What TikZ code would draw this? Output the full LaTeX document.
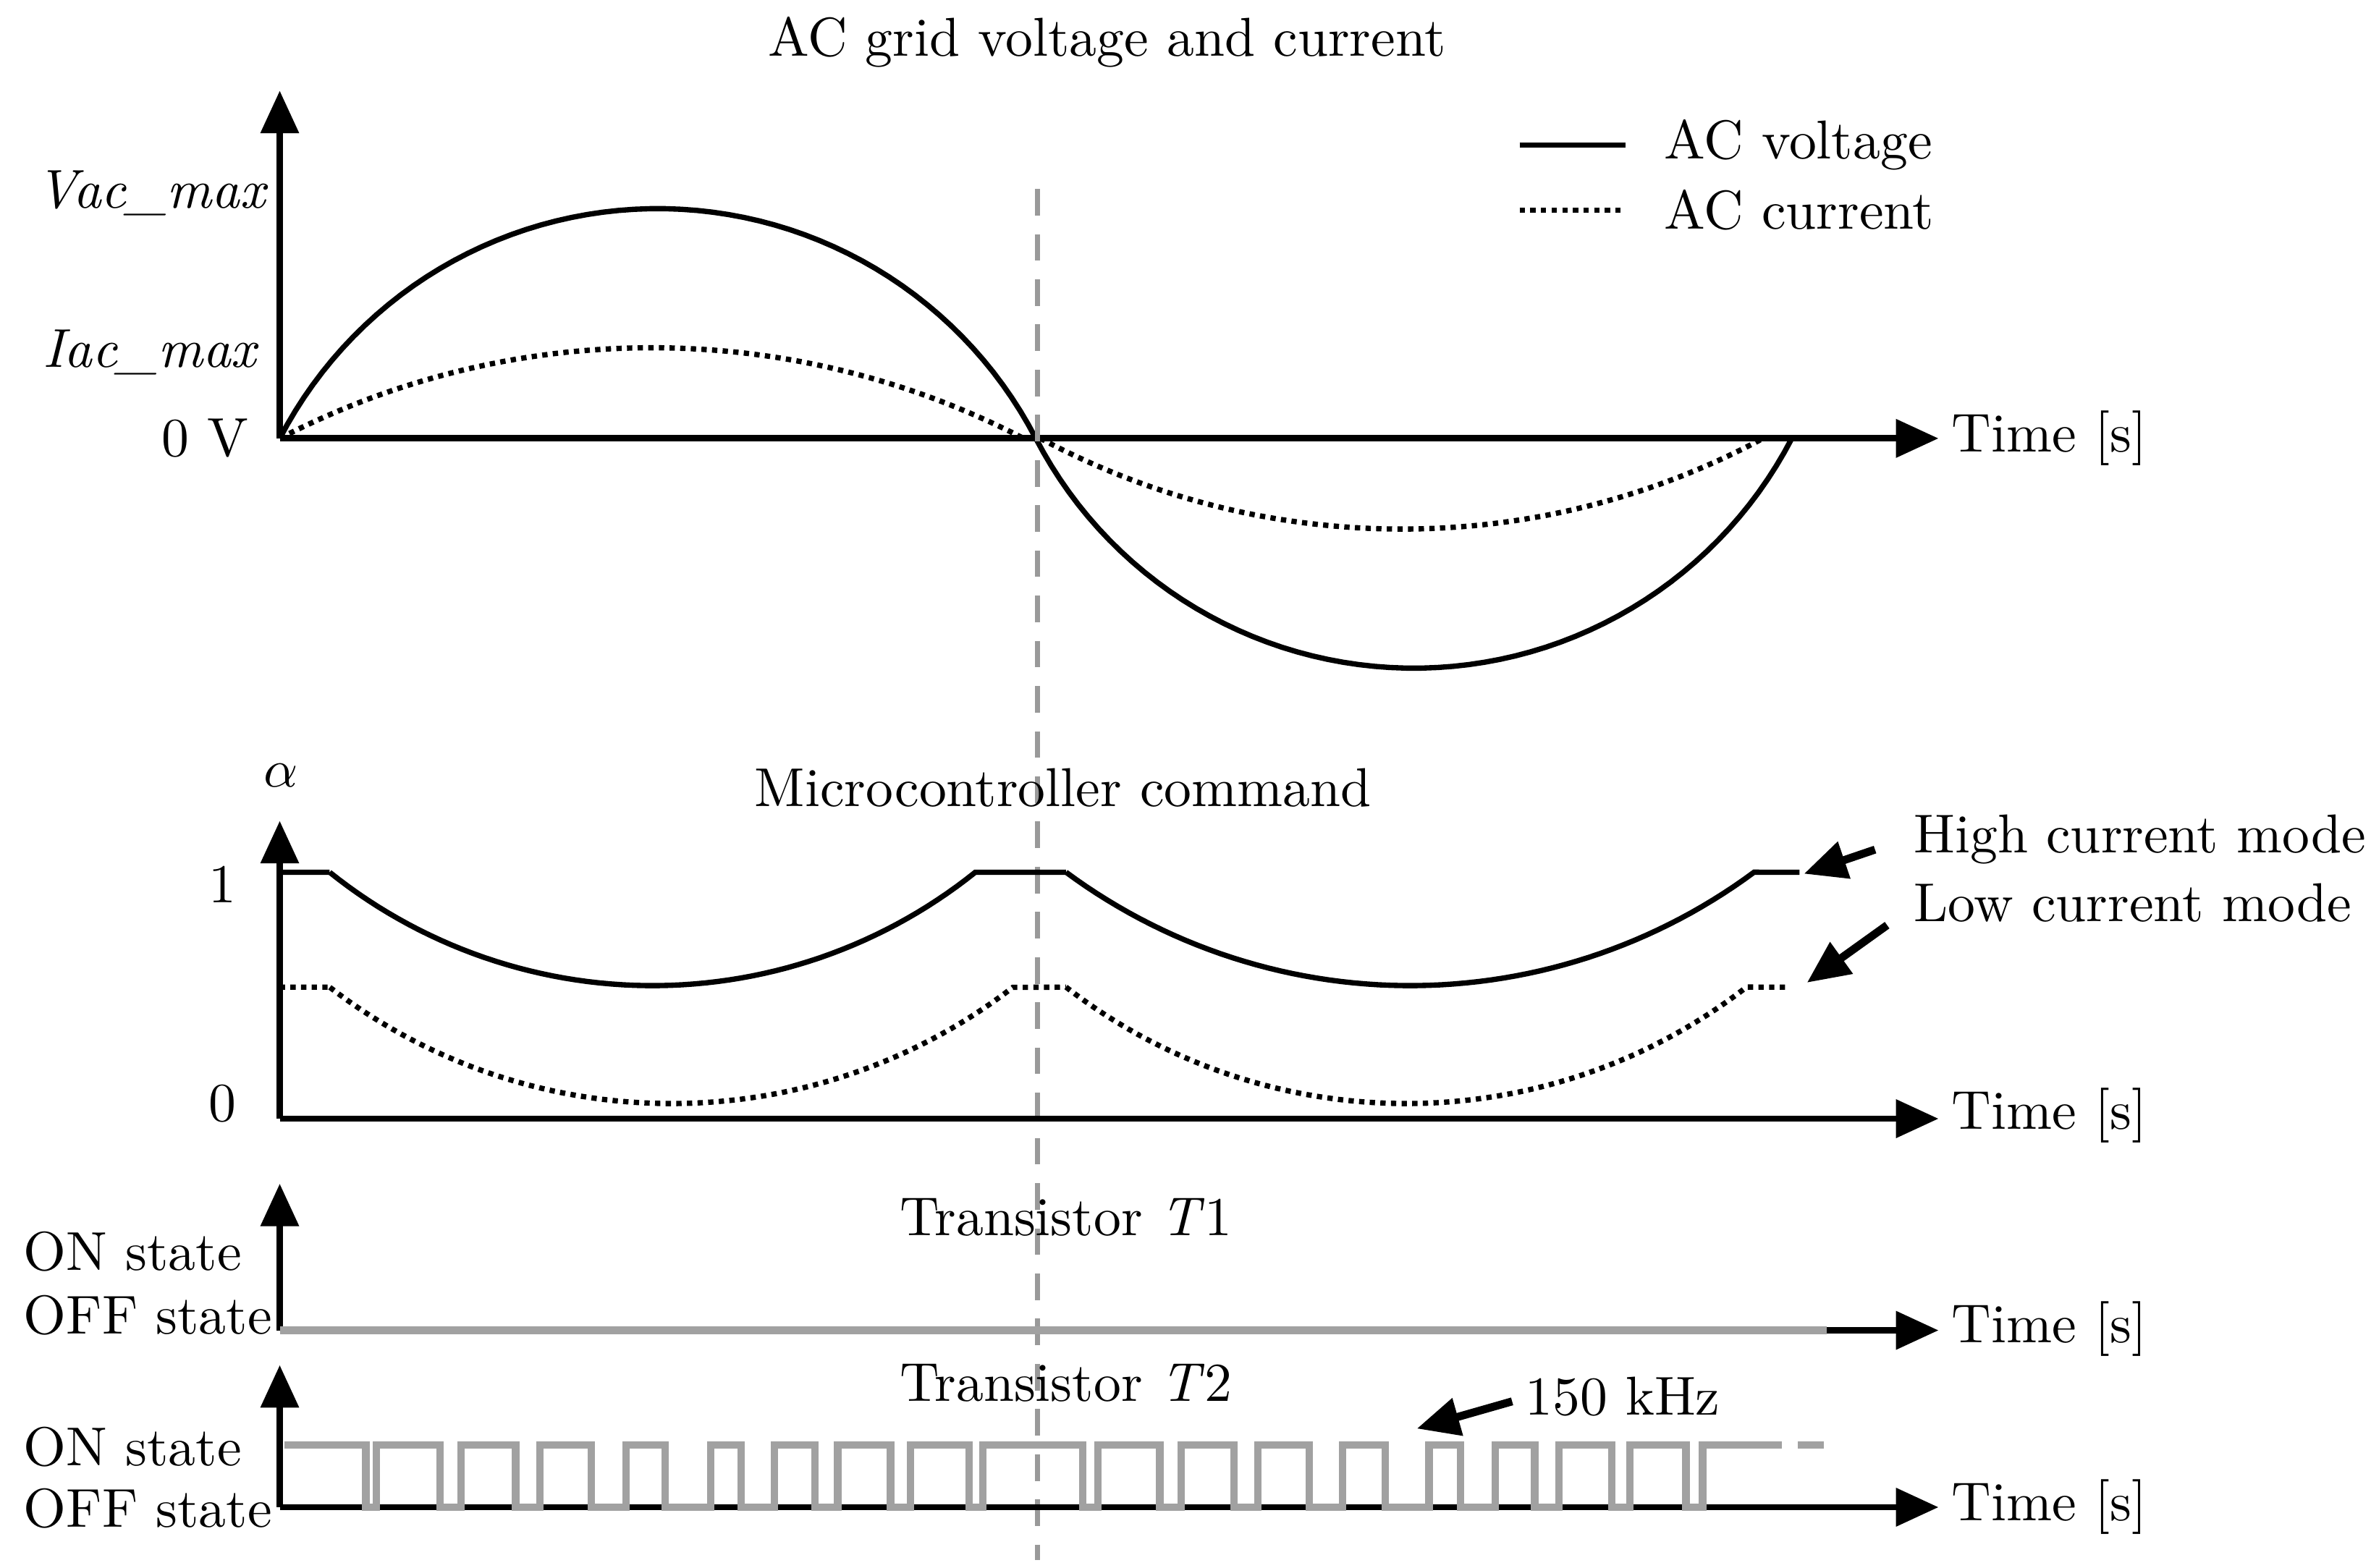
\documentclass[tikz,border=0pt]{standalone}
\usetikzlibrary{arrows.meta}
\begin{document}
\begin{tikzpicture}[x=0.01cm,y=-0.01cm,
  ax/.style={line width=1.2pt,-{Triangle[length=8pt,width=7pt]}},
  lbl/.style={font=\fontsize{10.3}{12}\selectfont,inner sep=0pt},
  curve/.style={line width=1.0pt},
  dot/.style={line width=1.0pt,dash pattern=on 1pt off 1pt},
  gr/.style={line width=1.4pt,color=black!37},
  pt/.style={line width=1.5pt,-{Triangle[length=8pt,width=7pt]}}]
\useasboundingbox (0,0) rectangle (1568,1037);
% panel 1
\coordinate (o1) at (185,290);
\coordinate (y1) at (185,60);
\coordinate (x1) at (1282,290);
\draw[ax] (o1) -- (y1);
\draw[ax] (o1) -- (x1);
\node[lbl,anchor=west] (t1) at (1290,290) {Time [s]};
\node[lbl] (title1) at (732,28) {AC grid voltage and current};
\node[lbl,anchor=east] (vmax) at (178,128) {\textit{Vac\_max}};
\node[lbl,anchor=east] (imax) at (172,233) {\textit{Iac\_max}};
\node[lbl,anchor=east] (zv) at (165,290) {0 V};
\draw[curve] plot[domain=-62.6:62.6,samples=60] ({435+281.6*sin(\x)},{419.6-281.6*cos(\x)})
             plot[domain=-62.6:62.6,samples=60] ({935+281.6*sin(\x)},{160.4+281.6*cos(\x)});
\draw[dot] plot[domain=-27.4:27.4,samples=60] ({431+534.3*sin(\x)},{764.3-534.3*cos(\x)});
\draw[dot] plot[domain=-28.2:28.2,samples=60] ({927+506*sin(\x)},{-156+506*cos(\x)});
\draw[curve] (1005,96) -- (1075,96);
\draw[dot] (1005,139) -- (1075,139);
\node[lbl,anchor=west] (lv) at (1100,96) {AC voltage};
\node[lbl,anchor=west] (lc) at (1100,139) {AC current};
% dashed marker
\draw[line width=1.0pt,black!40,dash pattern=on 5pt off 3.5pt] (686,125) -- (686,1032);
% panel 2
\coordinate (o2) at (185,740);
\draw[ax] (o2) -- (185,543);
\draw[ax] (o2) -- (1282,740);
\node[lbl,anchor=west] (t2) at (1290,738) {Time [s]};
\node[lbl] (title2) at (703,521) {Microcontroller command};
\node[lbl] (alpha) at (186,513) {$\alpha$};
\node[lbl] (one) at (147,585) {1};
\node[lbl] (zero) at (147,730) {0};
\draw[curve] (185,577) -- (218,577)
  plot[domain=-38.7:38.7,samples=60] ({431.5+341.4*sin(\x)},{310.6+341.4*cos(\x)})
  -- (705,577)
  plot[domain=-36.5:36.5,samples=60] ({932.5+382.5*sin(\x)},{269.5+382.5*cos(\x)})
  -- (1190,577);
\draw[dot] (185,653) -- (218,653)
  plot[domain=-37.6:37.6,samples=60] ({444+370.2*sin(\x)},{359.8+370.2*cos(\x)})
  -- (705,653)
  plot[domain=-37.8:37.8,samples=60] ({930+367.2*sin(\x)},{362.8+367.2*cos(\x)})
  -- (1182,653);
\node[lbl,anchor=west] (hc) at (1265,555) {High current mode};
\node[lbl,anchor=west] (lcm) at (1265,597) {Low current mode};
\coordinate (ha) at (1240,562); \coordinate (hb) at (1193,578);
\coordinate (la) at (1248,612); \coordinate (lb) at (1195,650);
\draw[pt] (ha) -- (hb);
\draw[pt] (la) -- (lb);
% panel 3
\coordinate (o3) at (185,880);
\draw[ax] (o3) -- (185,783);
\draw[ax] (1205,880) -- (1282,880);
\draw[gr] (o3) -- (1208,880);
\node[lbl,anchor=west] (t3) at (1290,879) {Time [s]};
\node[lbl] (title3) at (705,805) {Transistor \textit{T}1};
\node[lbl,anchor=west] (on3) at (15,828) {ON state};
\node[lbl,anchor=west] (off3) at (15,870) {OFF state};
% panel 4
\coordinate (o4) at (185,997);
\draw[ax] (o4) -- (185,903);
\draw[ax] (o4) -- (1282,997);
\node[lbl,anchor=west] (t4) at (1290,997) {Time [s]};
\node[lbl] (title4) at (705,915) {Transistor \textit{T}2};
\node[lbl,anchor=west] (on4) at (15,957) {ON state};
\node[lbl,anchor=west] (off4) at (15,998) {OFF state};
\node[lbl,anchor=west] (khz) at (1008,924) {150 kHz};
\coordinate (ka) at (1000,927); \coordinate (kb) at (937,945);
\draw[pt] (ka) -- (kb);
\draw[gr] (188,956)
 \foreach \a/\b in {242/249,291/305,341/357,391/414,440/470,490/512,539/554,589/602,641/650,716/726,767/781,816/832,866/888,916/945,966/989,1015/1031,1066/1078,1115/1126}
 { -- (\a,956) -- (\a,997) -- (\b,997) -- (\b,956) } -- (1161,956);
\draw[gr,dash pattern=on 5pt off 3pt] (1161,956) -- (1206,956);
\end{tikzpicture}
\end{document}
